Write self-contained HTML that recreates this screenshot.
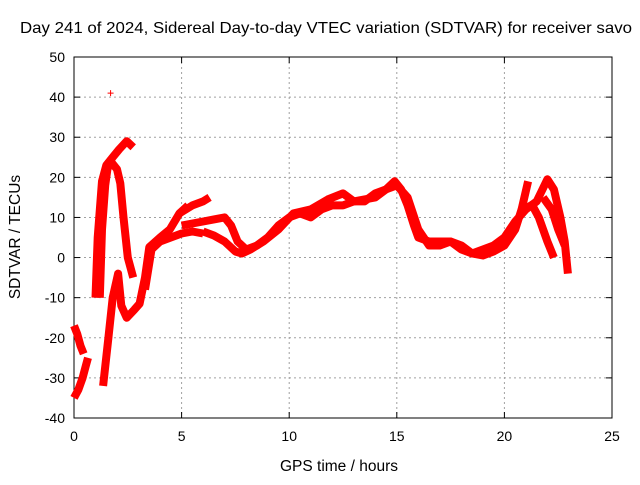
<!DOCTYPE html>
<html><head><meta charset="utf-8"><style>
body{margin:0;background:#fff}
svg text{font-family:"Liberation Sans",sans-serif;font-size:14px;fill:#000}
</style></head><body>
<svg id="c" width="640" height="480"></svg>
<script>
const xTicks=[0,5,10,15,20,25];
const yTicks=[-40,-30,-20,-10,0,10,20,30,40,50];
const trackA_h=[0,0.15,0.3,0.45];
const trackA_v=[-17,-19,-22,-24];
const trackB_h=[0,0.2,0.4,0.55,0.65];
const trackB_v=[-35,-33,-30,-27,-25];
const trackC_h=[1.0,1.1,1.3,1.5,1.8,2.1,2.45,2.75];
const trackC_v=[-10,5,19,23,25,27,29,27.5];
const trackD_h=[1.2,1.3,1.45,1.55,1.7];
const trackD_v=[-10,7,18,22,24];
const trackE_h=[1.7,2.0,2.15,2.3,2.5,2.75];
const trackE_v=[24,22,18.5,10,0,-5];
const trackF_h=[1.35,1.6,1.8,2.05,2.2,2.45,2.8,3.05,3.3,3.5,4.0,4.45,4.9,5.3];
const trackF_v=[-32,-20,-10,-4,-12,-15,-13,-11.5,-5,2.6,5,7,11,13];
const trackG_h=[4.9,5.5,6.0,6.3];
const trackG_v=[11,13,14,15];
const trackH_h=[3.3,3.6,4.0,4.5,5.0,5.5,6.0];
const trackH_v=[-8,2,4,5,6,6.5,6];
const trackI_h=[5.0,5.5,6.0,6.5,7.0,7.3,7.6,8.0,8.5,9.0,9.5,10.0,10.5,11.0,11.5,12.0,12.5,13.0,13.5,14.0,14.5,14.9,15.2,15.5,15.8,16.0,16.5,17.0,17.5,18.0,18.5,19.0,19.5,20.0,20.5,20.8,21.1];
const trackI_v=[8,8.5,9,9.5,10,8,4,2,3,5,8,10,11,10,12,13,13,14,14,16,17,19,17,13,8,5,4,4,4,3,1,0.5,1.5,3,7,12,19];
const trackJ_h=[6.0,6.5,7.0,7.5,7.8,8.2,8.8,9.5,10.2,11,11.8,12.5,13,13.5,14,14.5,15,15.5,16,16.5,17,17.5,18,18.5,19,19.5,20,20.5,21,21.5,22,22.3,22.6,22.8,22.95];
const trackJ_v=[6.5,5.5,4,1.5,1,2,4,7,11,12,14.5,16,14,14.5,15,17,18,15,7,3,3,4,2,1,2,3,5,9,12,14,19.5,17,10,4,-4];
const trackK_h=[21.2,21.6,22.0,22.3];
const trackK_v=[14,10,4,0];
const trackL_h=[21.8,22.2,22.5,22.8];
const trackL_v=[15,12,7,3];
const outlierH=[1.7];
const outlierV=[41];
const tracks=[[trackA_h,trackA_v],[trackB_h,trackB_v],[trackC_h,trackC_v],[trackD_h,trackD_v],[trackE_h,trackE_v],[trackF_h,trackF_v],[trackG_h,trackG_v],[trackH_h,trackH_v],[trackI_h,trackI_v],[trackJ_h,trackJ_v],[trackK_h,trackK_v],[trackL_h,trackL_v]];

const L=74,R=612,T=57,B=418;
const X=h=>L+(h-0)/25*(R-L);
const Y=v=>B-(v+40)/90*(B-T);
const svg=document.getElementById('c');
const NS='http://www.w3.org/2000/svg';
function mk(tag,attrs,parent){const e=document.createElementNS(NS,tag);for(const k in attrs)e.setAttribute(k,attrs[k]);(parent||svg).appendChild(e);return e;}

const grid=mk('g',{});


xTicks.forEach(t=>{
  if(t>0&&t<25){const l=mk('line',{x1:X(t),x2:X(t),y1:T,y2:B,stroke:'#a0a0a0','stroke-dasharray':'2,3'},grid);
  
  }
  const tk=mk('line',{x1:X(t),x2:X(t),y1:B,y2:B-6,stroke:'#000'});
  
  
  const tt=mk('line',{x1:X(t),x2:X(t),y1:T,y2:T+6,stroke:'#000'});
  
  
  const tx=mk('text',{x:X(t),y:B+23,'text-anchor':'middle'});tx.textContent=t;
  
  
});
yTicks.forEach(t=>{
  if(t>-40&&t<50){const l=mk('line',{x1:L,x2:R,y1:Y(t),y2:Y(t),stroke:'#a0a0a0','stroke-dasharray':'2,3'},grid);
  
  }
  const tk=mk('line',{x1:L,x2:L+6,y1:Y(t),y2:Y(t),stroke:'#000'});
  
  
  const tr=mk('line',{x1:R,x2:R-6,y1:Y(t),y2:Y(t),stroke:'#000'});
  
  
  const tx=mk('text',{x:L-9,y:Y(t)+5,'text-anchor':'end'});tx.textContent=t;
  
  
});
const frame=mk('rect',{x:L,y:T,width:R-L,height:B-T,fill:'none',stroke:'#000'});



tracks.forEach(([hs,vs])=>{
  const pts=hs.map((h,i)=>X(h).toFixed(1)+','+Y(vs[i]).toFixed(1)).join(' ');
  const p=mk('polyline',{points:pts,fill:'none',stroke:'#ff0000','stroke-width':8,'stroke-linejoin':'round','stroke-linecap':'butt'});
  
  
});
outlierH.forEach((h,i)=>{
  const x=X(h),y=Y(outlierV[i]);
  const p=mk('path',{d:`M${x-3},${y}H${x+3}M${x},${y-3}V${y+3}`,stroke:'#ff0000','stroke-width':1});
  
  
});

const title=mk('text',{x:20,y:33,'text-anchor':'start',textLength:612,lengthAdjust:'spacingAndGlyphs',style:'font-size:16px'});
title.textContent='Day 241 of 2024, Sidereal Day-to-day VTEC variation (SDTVAR) for receiver savo';


const xl=mk('text',{x:339,y:471,'text-anchor':'middle',style:'font-size:15.5px'});
xl.textContent='GPS time / hours';


const yl=mk('text',{x:0,y:0,'text-anchor':'middle',style:'font-size:15.5px',transform:'translate(20,237) rotate(-90)'});
yl.textContent='SDTVAR / TECUs';


</script>
</body></html>
